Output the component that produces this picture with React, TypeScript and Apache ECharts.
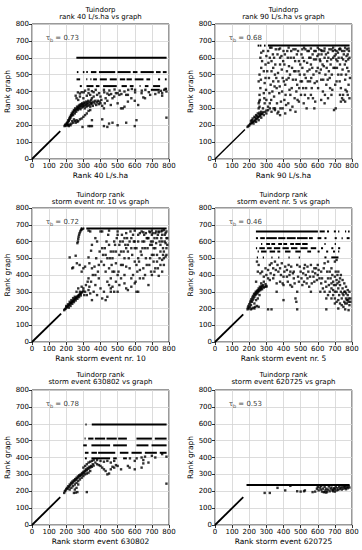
import React, { useEffect, useRef } from "react";
import * as echarts from "echarts";

const FONT = "DejaVu Sans";

const titleLines: [string, string][] = [
  ["Tuindorp", "rank 40 L/s.ha vs graph"],
  ["Tuindorp", "rank 90 L/s.ha vs graph"],
  ["Tuindorp rank", "storm event nr. 10 vs graph"],
  ["Tuindorp rank", "storm event nr. 5 vs graph"],
  ["Tuindorp rank", "storm event 630802 vs graph"],
  ["Tuindorp rank", "storm event 620725 vs graph"],
];
const xNames = [
  "Rank 40 L/s.ha",
  "Rank 90 L/s.ha",
  "Rank storm event nr. 10",
  "Rank storm event nr. 5",
  "Rank storm event 630802",
  "Rank storm event 620725",
];
const yName = "Rank graph";
const tauValues = ["0.73", "0.68", "0.72", "0.46", "0.78", "0.53"];
const axisMin = 0;
const axisMax = 800;
const axisStep = 100;
const diagEnds = [165, 175, 170, 165, 165, 165];

type Row = [number, [number, number][]];
type Pt = [number, number];

// ---------- Panel 1: rank 40 L/s.ha ----------
const p1Rows: Row[] = [
  [600, [[260, 785]]],
  [515, [[263, 270], [298, 305], [318, 325], [345, 375], [392, 485], [500, 575], [590, 615], [635, 710], [725, 750], [765, 785]]],
  [472, [[261, 280], [318, 322], [342, 346], [358, 378], [397, 436], [455, 494], [514, 543], [553, 582], [601, 650], [669, 689], [737, 747], [777, 785]]],
  [432, [[280, 290], [319, 358], [374, 393], [416, 494], [524, 553], [572, 592], [629, 633], [660, 679], [708, 747]]],
  [410, [[695, 745]]],
];
const p1Points: Pt[] = [
  [310, 405], [330, 412], [350, 402], [372, 410], [420, 410], [452, 406], [482, 412], [512, 405], [540, 400], [562, 410], [583, 415], [602, 410], [641, 405], [662, 410], [753, 404], [772, 410], [782, 415],
  [268, 395], [280, 388], [290, 396], [302, 395], [330, 390], [360, 396], [392, 390], [422, 395], [440, 388], [462, 385], [500, 390], [522, 385], [560, 380], [602, 395], [640, 390], [682, 396], [760, 390], [785, 400],
  [190, 195], [193, 200], [196, 205], [200, 198], [202, 210], [205, 215], [208, 205], [210, 220], [212, 230], [215, 225], [218, 240], [220, 235], [222, 250], [225, 245], [228, 260], [230, 255], [232, 270], [235, 265], [238, 280], [240, 260], [242, 275], [245, 290], [248, 285], [250, 270], [252, 300], [255, 290], [258, 280], [260, 295], [263, 310], [265, 300], [268, 290], [270, 305], [273, 315], [275, 300], [278, 320], [280, 310], [283, 295], [285, 325], [288, 315], [290, 305], [293, 330], [295, 320], [298, 310], [300, 325], [303, 335], [305, 315], [308, 300], [310, 330], [313, 320], [315, 340], [318, 310], [320, 325], [323, 335], [325, 315], [328, 345], [330, 330], [335, 320], [338, 340], [340, 310], [343, 330], [345, 350], [348, 325], [350, 335], [355, 315], [360, 340], [365, 330], [370, 345], [375, 320], [380, 335], [385, 345], [390, 325], [395, 340], [400, 330], [405, 350], [410, 315],
  [210, 200], [220, 205], [230, 210], [240, 215], [250, 225], [260, 230], [270, 225], [280, 235], [255, 215], [265, 220], [290, 240], [300, 250], [310, 260], [320, 270], [330, 285], [340, 290], [235, 225], [245, 235], [215, 195], [225, 200],
  [295, 190], [330, 195], [340, 195], [350, 195], [420, 195], [440, 190], [470, 215], [550, 215], [600, 195], [610, 230], [785, 245], [350, 230], [410, 235], [450, 210], [500, 200],
  [420, 300], [425, 330], [440, 345], [460, 320], [470, 360], [480, 370], [500, 330], [520, 300], [530, 300], [540, 310], [550, 380], [560, 340], [580, 360], [600, 345], [620, 320], [650, 365], [660, 360], [690, 380], [720, 385], [740, 395], [760, 375], [780, 415], [490, 390], [510, 380], [450, 380], [430, 360], [380, 380], [360, 370], [400, 370], [255, 375], [260, 360], [270, 350], [280, 370], [300, 360], [320, 375], [340, 380], [350, 360],
];

// ---------- Panel 2: rank 90 L/s.ha ----------
const p2Rows: Row[] = [
  [672, [[250, 258], [263, 270], [287, 294], [310, 785]]],
];
const p2Points: Pt[] = [
  [255, 330], [258, 340], [255, 300], [260, 310], [260, 380], [265, 420], [255, 460], [260, 500], [270, 540], [265, 600], [270, 630],
  [285, 390], [290, 450], [295, 560], [300, 610], [280, 300], [290, 330], [300, 350], [295, 480], [285, 520],
  [310, 640], [320, 600], [330, 580], [340, 540], [315, 480], [325, 440], [335, 400], [345, 370], [310, 310], [320, 330], [350, 300], [340, 460], [350, 500], [330, 520], [345, 600], [355, 650],
  [360, 420], [370, 460], [380, 560], [390, 530], [375, 390], [385, 340], [395, 480], [365, 620], [400, 640], [380, 600], [395, 300], [370, 280],
  [405, 560], [410, 440], [420, 520], [430, 480], [440, 380], [415, 320], [425, 600], [445, 640], [435, 410], [450, 540], [405, 350], [440, 290], [410, 270],
  [455, 470], [460, 600], [470, 520], [480, 440], [490, 580], [465, 360], [475, 400], [485, 640], [495, 500], [470, 280], [490, 340], [500, 460],
  [505, 620], [510, 540], [515, 420], [520, 580], [530, 480], [540, 640], [545, 360], [525, 380], [535, 300], [550, 600], [510, 650], [540, 520],
  [555, 460], [560, 560], [565, 420], [570, 620], [575, 500], [580, 640], [585, 340], [590, 590], [595, 460], [560, 380], [580, 300], [600, 540],
  [605, 620], [610, 510], [615, 580], [620, 470], [625, 640], [630, 400], [635, 550], [640, 600], [645, 500], [650, 440], [620, 350], [640, 330],
  [655, 580], [660, 630], [665, 520], [670, 480], [675, 560], [680, 650], [685, 410], [690, 600], [695, 290], [700, 540], [660, 360], [680, 380],
  [705, 620], [710, 460], [715, 580], [720, 500], [725, 650], [730, 380], [735, 420], [740, 600], [745, 530], [750, 350], [710, 640], [730, 560],
  [755, 640], [760, 470], [765, 580], [770, 400], [775, 620], [780, 520], [785, 360], [760, 340], [770, 650], [785, 600], [780, 440], [765, 500],
  [330, 660], [380, 655], [430, 660], [470, 650], [520, 660], [560, 655], [600, 660], [640, 655], [690, 660], [730, 655], [760, 660], [780, 655], [700, 645], [620, 645],
  [262, 350], [268, 470], [275, 580], [282, 640], [288, 360], [298, 410], [305, 520], [312, 570], [318, 390], [322, 660], [328, 350], [338, 620], [342, 300], [348, 430], [352, 560], [358, 480], [362, 330], [368, 510], [372, 650], [378, 430], [382, 300], [388, 610], [392, 400], [398, 580], [402, 460], [408, 620], [412, 380], [418, 470], [422, 640], [428, 330], [432, 550], [438, 500], [442, 600], [448, 420], [452, 310], [458, 650], [462, 520], [468, 580], [472, 470], [478, 620], [482, 350], [488, 520], [492, 420], [498, 560], [502, 380], [508, 460], [512, 600], [518, 330], [522, 500], [528, 650], [532, 420], [538, 570], [542, 460], [548, 640], [552, 530], [558, 600], [562, 480], [568, 540], [572, 360], [578, 590], [582, 450], [588, 640], [592, 520], [598, 610], [602, 420], [608, 650], [612, 590], [618, 530], [622, 620], [628, 560], [632, 470], [638, 640], [642, 380], [648, 620], [652, 540], [658, 470], [662, 600], [668, 650], [672, 420], [678, 590], [682, 500], [688, 640], [692, 540], [698, 610], [702, 440], [708, 590], [712, 540], [718, 630], [722, 600], [728, 460], [732, 650], [738, 500], [742, 640], [748, 590], [752, 620], [758, 560], [762, 410], [768, 610], [772, 540], [778, 590], [782, 640], [788, 480], [748, 380], [742, 360], [735, 340], [775, 380], [705, 300],
  [190, 190], [195, 196], [200, 199], [205, 207], [210, 211], [215, 214], [220, 220], [225, 222], [230, 227], [235, 229], [240, 236], [245, 240], [250, 246], [255, 249], [260, 256], [265, 258], [270, 266], [275, 268], [280, 276], [290, 279], [300, 287], [310, 289],
  [210, 225], [220, 240], [230, 250], [240, 260], [250, 270], [260, 275], [225, 210], [240, 220], [255, 230], [270, 245], [285, 260], [300, 270], [320, 300], [330, 280], [350, 290], [365, 270], [380, 260], [215, 230], [235, 245], [245, 255], [260, 265], [270, 280],
];

// ---------- Panel 3: storm event nr. 10 ----------
const p3Rows: Row[] = [
  [678, [[285, 292], [300, 305], [318, 785]]],
];
const p3Points: Pt[] = [
  [265, 590], [268, 600], [270, 615], [272, 628], [275, 640], [278, 650], [282, 660], [286, 668], [290, 672], [295, 676],
  [220, 505], [235, 440], [240, 445], [255, 515], [278, 460], [262, 470], [300, 440], [290, 420], [310, 450], [330, 505], [350, 580], [345, 545], [370, 620], [340, 660], [380, 600],
  [188, 190], [192, 196], [196, 199], [200, 206], [204, 208], [208, 213], [212, 217], [216, 223], [220, 225], [224, 231], [228, 233], [232, 239], [236, 241], [240, 247], [244, 249], [248, 255], [252, 257], [256, 263], [260, 265], [264, 271], [268, 273], [272, 279], [276, 281], [280, 287], [285, 289], [290, 296], [295, 299], [300, 306],
  [210, 225], [220, 240], [230, 250], [240, 262], [250, 270], [200, 215], [215, 205], [225, 215], [235, 228], [245, 238], [255, 248], [265, 258], [275, 268], [285, 278], [260, 300], [270, 320], [280, 300], [290, 330], [300, 320], [310, 300], [320, 280], [330, 310], [340, 290], [305, 280], [315, 340], [325, 360], [335, 330],
  [350, 250], [360, 300], [370, 340], [380, 280], [390, 380], [400, 320], [355, 400], [365, 450], [375, 500], [385, 420], [395, 540], [345, 360], [335, 470],
  [410, 260], [420, 300], [430, 250], [440, 270], [450, 340], [460, 380], [470, 420], [480, 300], [490, 360], [500, 400], [405, 480], [415, 520], [425, 560], [435, 600], [445, 640], [455, 500], [465, 460], [475, 540], [485, 580], [495, 620], [410, 660], [430, 420], [450, 440], [470, 330], [490, 470], [460, 300], [480, 420], [440, 360],
  [505, 420], [510, 340], [520, 380], [530, 460], [540, 500], [550, 320], [560, 310], [570, 440], [580, 560], [590, 400], [600, 480], [515, 600], [525, 640], [535, 540], [545, 580], [555, 620], [565, 500], [575, 660], [585, 520], [595, 600], [510, 520], [550, 450], [580, 380], [520, 460], [540, 400], [560, 540],
  [610, 300], [620, 300], [605, 360], [615, 420], [625, 480], [635, 540], [645, 600], [655, 640], [665, 500], [675, 560], [685, 460], [695, 420], [630, 380], [650, 440], [670, 620], [690, 580], [700, 520], [640, 660], [660, 400], [680, 340], [610, 560], [620, 640], [700, 640],
  [705, 600], [710, 480], [720, 560], [730, 620], [740, 395], [745, 500], [750, 540], [760, 600], [770, 460], [780, 510], [785, 560], [775, 640], [765, 520], [755, 660], [735, 440], [725, 660], [715, 420], [790, 620], [780, 650], [760, 490],
  [330, 665], [400, 660], [450, 665], [500, 660], [550, 650], [600, 665], [650, 655], [700, 665], [740, 655], [770, 668], [785, 660], [720, 650], [760, 665], [690, 655],
  [620, 600], [630, 650], [645, 560], [655, 600], [665, 650], [675, 620], [685, 660], [695, 600], [705, 650], [715, 620], [725, 590], [735, 640], [745, 600], [755, 620], [765, 560], [775, 600], [785, 620], [790, 580], [710, 560], [730, 520], [750, 580], [770, 540], [780, 590], [760, 640], [740, 660], [700, 580], [680, 620], [660, 560], [640, 520], [620, 500], [600, 560], [590, 640], [570, 600], [550, 560], [530, 600], [510, 580], [490, 540], [470, 500], [450, 580], [430, 520], [410, 560], [390, 460], [370, 400], [350, 440], [330, 380], [420, 460], [440, 500], [460, 540], [480, 600], [500, 640], [520, 540], [540, 620], [560, 580], [580, 620], [600, 600], [610, 460], [630, 430], [650, 380], [670, 460], [690, 500], [710, 520], [730, 480], [750, 460], [770, 500], [785, 520], [760, 420], [700, 400], [720, 440], [580, 330], [600, 350], [540, 350], [500, 300], [460, 320],
];

// ---------- Panel 4: storm event nr. 5 ----------
const p4Rows: Row[] = [
  [660, [[240, 600], [612, 640], [655, 665], [695, 705], [720, 725], [760, 765], [778, 785]]],
  [620, [[240, 250], [265, 290], [300, 360], [370, 410], [420, 470], [480, 540], [550, 570], [600, 620], [640, 650], [700, 710], [740, 745], [770, 785]]],
  [585, [[270, 275], [300, 320], [330, 350], [370, 390], [400, 420], [440, 460], [470, 500], [510, 540], [640, 645], [700, 705]]],
  [560, [[240, 245], [260, 290], [305, 330], [345, 380], [395, 430], [445, 480], [500, 540], [560, 590], [620, 630], [680, 690], [720, 730]]],
  [540, [[250, 255], [270, 300], [320, 350], [365, 380], [410, 440], [470, 500], [540, 560], [600, 610], [650, 660], [690, 700], [720, 725]]],
  [505, [[245, 250], [280, 285], [330, 335], [370, 375], [430, 435], [490, 495], [640, 650], [680, 720]]],
];
const p4Points: Pt[] = [
  [190, 195], [192, 205], [195, 215], [198, 200], [200, 225], [203, 210], [205, 235], [208, 245], [210, 220], [212, 255], [215, 240], [218, 265], [220, 250], [222, 275], [225, 260], [228, 285], [230, 270], [232, 290], [235, 280], [238, 300], [240, 285], [242, 295], [245, 305], [248, 290], [250, 310], [252, 300], [255, 320], [258, 305], [260, 315], [262, 330], [265, 310], [268, 325], [270, 320], [272, 335], [275, 315], [278, 330], [280, 340], [285, 325], [290, 330], [295, 345], [300, 335], [240, 250], [235, 210], [225, 205], [215, 200], [245, 215], [255, 210], [230, 230], [250, 260], [260, 280], [285, 360], [270, 350], [230, 200], [240, 360], [210, 195],
  [310, 195], [330, 195], [400, 250], [480, 195], [650, 195], [720, 200], [760, 195], [780, 190],
  [300, 400], [310, 430], [320, 460], [330, 470], [340, 440], [350, 480], [360, 300], [370, 420], [380, 440], [390, 470], [400, 340], [410, 450], [420, 390], [430, 460], [440, 420], [450, 330], [460, 380], [470, 260], [475, 240], [480, 300], [490, 360], [500, 420], [510, 340], [520, 440], [530, 400], [540, 380], [550, 330], [560, 300], [570, 420], [580, 360], [590, 440], [600, 400], [610, 380], [620, 350], [630, 320], [640, 300], [650, 330], [660, 380], [670, 420], [680, 350], [690, 310], [700, 300], [300, 330], [320, 370], [340, 380], [360, 350], [380, 360], [400, 390], [420, 430], [440, 340], [460, 420], [480, 460], [520, 360], [540, 450], [560, 460], [580, 440], [600, 460], [620, 420], [640, 470], [660, 480], [680, 440], [700, 480], [710, 490], [720, 420], [730, 380],
  [650, 260], [660, 280], [670, 300], [680, 320], [690, 280], [700, 260], [705, 340], [710, 300], [715, 350], [720, 320], [725, 280], [730, 340], [735, 300], [740, 260], [745, 320], [750, 280], [755, 240], [760, 300], [765, 260], [770, 230], [775, 280], [780, 240], [785, 220], [690, 360], [700, 390], [710, 370], [720, 250], [730, 230], [740, 220], [750, 210], [760, 230], [770, 250], [780, 260], [790, 240], [755, 350], [765, 330], [775, 310], [745, 370], [735, 400],
  [245, 480], [255, 460], [265, 410], [275, 420], [285, 390], [295, 440], [250, 420],
  [310, 380], [325, 410], [345, 400], [355, 430], [365, 460], [385, 400], [395, 350], [405, 420], [425, 360], [435, 400], [445, 450], [455, 410], [465, 350], [485, 390], [495, 450], [505, 380], [515, 410], [525, 460], [535, 350], [545, 420], [555, 390], [565, 350], [575, 390], [585, 410], [595, 370], [605, 430], [615, 300], [625, 380], [635, 440], [645, 360], [655, 420], [665, 340], [675, 380], [685, 400], [695, 340], [705, 420], [715, 400], [725, 360], [745, 290], [755, 300], [765, 290], [775, 250], [785, 300], [790, 260], [700, 230], [710, 240], [680, 260],
];

// ---------- Panel 5: storm event 630802 ----------
const p5Rows: Row[] = [
  [595, [[313, 318], [350, 785]]],
  [512, [[308, 312], [329, 358], [368, 426], [436, 494], [504, 553], [611, 699], [718, 785]]],
  [472, [[300, 319], [348, 455], [475, 553], [611, 679], [699, 785]]],
  [428, [[310, 329], [348, 378], [387, 485], [514, 562], [582, 640], [660, 728], [747, 785]]],
  [395, [[310, 319], [348, 455], [475, 494], [533, 553]]],
];
const p5Points: Pt[] = [
  [572, 395], [611, 395], [640, 400], [660, 405], [700, 410], [720, 400], [760, 420], [785, 405], [650, 385], [600, 380],
  [188, 190], [192, 200], [196, 205], [200, 212], [204, 220], [208, 215], [212, 230], [216, 225], [220, 240], [224, 235], [228, 250], [232, 245], [236, 258], [240, 252], [244, 265], [248, 260], [252, 272], [256, 268], [260, 280], [264, 275], [268, 288], [272, 282], [276, 295], [280, 290], [284, 300], [288, 295], [292, 308], [296, 302], [300, 315], [304, 310], [308, 322], [312, 318], [316, 330], [320, 325], [325, 338], [330, 332], [335, 345], [340, 340], [345, 350], [350, 345], [355, 360], [360, 352],
  [220, 210], [230, 220], [240, 230], [250, 240], [260, 250], [270, 260], [280, 270], [290, 280], [300, 290], [310, 300], [320, 305], [330, 310], [340, 320], [250, 210], [260, 220], [270, 240], [245, 190], [255, 192], [265, 195], [320, 195], [785, 245],
  [300, 340], [310, 350], [320, 360], [330, 370], [340, 375], [350, 380], [360, 385], [370, 370], [380, 360], [390, 355], [400, 350], [410, 340], [420, 330], [430, 320], [440, 300], [450, 305], [460, 330], [470, 345], [480, 340], [490, 355], [500, 350], [520, 330], [560, 350], [570, 340], [600, 330], [640, 340], [650, 365], [680, 370], [380, 385], [400, 380], [420, 375], [440, 380], [460, 370], [480, 380],
];

// ---------- Panel 6: storm event 620725 ----------
const p6Rows: Row[] = [
  [237, [[185, 785]]],
];
const p6Points: Pt[] = [
  [290, 190], [320, 190], [365, 220], [410, 205], [440, 232], [480, 200], [500, 198], [520, 200], [525, 205], [570, 195], [585, 198], [595, 215], [600, 225], [605, 205], [612, 222], [618, 210], [625, 198], [630, 215], [635, 195], [640, 225], [645, 205], [650, 215], [655, 198], [660, 210], [665, 228], [670, 200], [675, 215], [680, 222], [685, 205], [690, 200], [695, 218], [700, 212], [705, 225], [710, 205], [715, 218], [720, 208], [725, 228], [730, 215], [735, 222], [740, 210], [745, 225], [750, 215], [755, 228], [760, 220], [765, 212], [770, 225], [775, 218], [780, 230], [785, 222], [640, 195], [650, 192], [690, 210], [620, 230], [700, 198], [760, 232],
];

const panelRows = [p1Rows, p2Rows, p3Rows, p4Rows, p5Rows, p6Rows];
const panelPoints = [p1Points, p2Points, p3Points, p4Points, p5Points, p6Points];
const tauPos: Pt = [80, 715];

export default function App() {
  const ref = useRef<HTMLDivElement>(null);
  useEffect(() => {
    if (!ref.current) return;
    const chart = echarts.init(ref.current, undefined, { renderer: "svg" });
    const lefts = [32, 215];
    const tops = [24, 208, 390];
    const heights = [135, 134, 135];
    const titleTops = [6, 191, 371];
    const W = 137;

    const grids: any[] = [];
    const xAxes: any[] = [];
    const yAxes: any[] = [];
    const titles: any[] = [];
    const series: any[] = [];
    const lbl = { fontFamily: FONT, fontSize: 7, color: "#000" };

    for (let i = 0; i < 6; i++) {
      const c = i % 2;
      const r = Math.floor(i / 2);
      grids.push({
        left: lefts[c], top: tops[r], width: W, height: heights[r],
        show: true, borderColor: "#000", borderWidth: 0.8, backgroundColor: "transparent",
      });
      titles.push({
        text: titleLines[i][0] + "\n" + titleLines[i][1],
        left: lefts[c] + W / 2, top: titleTops[r], textAlign: "center", padding: 0,
        textStyle: { fontFamily: FONT, fontSize: 7, lineHeight: 7.5, fontWeight: "normal", color: "#000" },
      });
      const axisCommon = {
        type: "value", min: axisMin, max: axisMax, interval: axisStep, gridIndex: i,
        axisLine: { show: false },
        axisTick: { show: true, length: 3, lineStyle: { color: "#000", width: 0.8 } },
        splitLine: { show: true, lineStyle: { color: "#d3d3d3", width: 0.8 } },
        nameLocation: "middle",
        nameTextStyle: { fontFamily: FONT, fontSize: 7.5, color: "#000" },
      };
      xAxes.push({ ...axisCommon, name: xNames[i], nameGap: 12, axisLabel: { ...lbl, margin: 3 } });
      yAxes.push({ ...axisCommon, name: yName, nameGap: 21, axisLabel: { ...lbl, margin: 3 } });

      const d = diagEnds[i];
      series.push({
        type: "line", xAxisIndex: i, yAxisIndex: i, data: [[0, 0], [d, d]],
        showSymbol: false, lineStyle: { color: "#000", width: i === 1 ? 1.4 : 1.8 }, silent: true,
      });
      panelRows[i].forEach(([y, segs]) => {
        segs.forEach(([x1, x2]) => {
          series.push({
            type: "line", xAxisIndex: i, yAxisIndex: i, data: [[x1 - 1, y], [x2 + 1, y]],
            showSymbol: false, lineStyle: { color: "#000", width: 2 }, silent: true,
          });
        });
      });
      series.push({
        type: "scatter", xAxisIndex: i, yAxisIndex: i, data: panelPoints[i],
        symbol: "rect", symbolSize: 2.4, itemStyle: { color: "#000" }, silent: true,
      });
      series.push({
        type: "scatter", xAxisIndex: i, yAxisIndex: i, data: [tauPos], symbolSize: 0, silent: true,
        label: {
          show: true, position: "right", distance: 0,
          formatter: "{a|τ}{b|b}{a| = " + tauValues[i] + "}",
          rich: {
            a: { fontFamily: FONT, fontSize: 7, color: "#000", lineHeight: 9 },
            b: { fontFamily: FONT, fontSize: 5, color: "#000", lineHeight: 9, padding: [3, 0, 0, 0] },
          },
        },
      });
    }

    chart.setOption({
      animation: false,
      backgroundColor: "#fff",
      title: titles,
      grid: grids,
      xAxis: xAxes,
      yAxis: yAxes,
      series,
    });
    return () => chart.dispose();
  }, []);
  return <div ref={ref} style={{ width: 362, height: 550, position: "absolute", left: 0, top: 0 }} />;
}
